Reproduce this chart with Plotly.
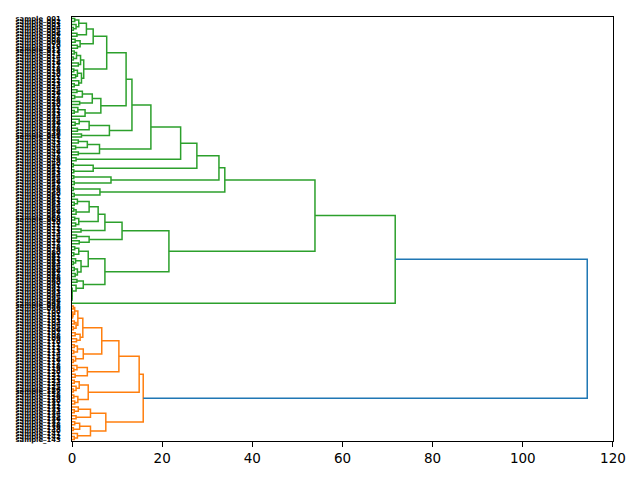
import plotly.graph_objects as go

# ---- data: hierarchical tree ----
# node = (merge height, upper child, lower child); 0 marks a single leaf
ROOT_HEIGHT = 114.3
THRESHOLD = 0.7 * ROOT_HEIGHT

# green family (upper part of chart)
g_top_a = (4.7,
           (3.2, (1.5, (0.6, 0, 0), (0.9, 0, (0.3, 0, 0))), (1.1, 0, 0)),
           (1.8, (0.7, 0, 0), (1.2, 0, 0)))
g_top_b = (2.6,
           (1.9, (1.0, (0.5, 0, 0), (0.3, 0, 0)), (1.4, 0, 0)),
           (2.1, (1.2, (0.4, 0, 0), (0.8, 0, 0)), (1.5, 0, (0.5, 0, 0))))
g_mid_a = (6.4,
           (4.5, (2.3, (1.1, 0, 0), (0.6, 0, 0)), (1.7, 0, 0)),
           (2.9, (1.3, 0, (0.5, 0, 0)), 0))
g_mid_b = (8.3,
           (3.8, (1.6, 0, (0.7, 0, 0)), (1.2, 0, 0)),
           (2.1, 0, 0))
g_mid_c = (6.1,
           (3.4, (1.4, 0, 0), (0.8, 0, 0)),
           (1.4, 0, 0))
g_small_a = (0.9, 0, 0)
g_small_b = (4.7, (0.3, 0, 0), (0.4, 0, 0))
g_small_c = (8.65, (0.4, 0, 0), (0.5, 0, 0))
g_small_d = (6.2, (0.3, 0, 0), (0.5, 0, 0))
g_low_a = (11.1,
           (7.3,
            (5.8, (3.8, (1.2, 0, (0.5, 0, 0)), (0.9, (0.4, 0, 0), 0)),
                  (1.5, (0.6, 0, 0), (0.8, 0, 0))),
            (2.0, 0, 0)),
           (3.8, (1.0, 0, 0), (1.6, 0, 0)))
g_low_b = (7.3,
           (3.6, (1.5, (0.6, 0, 0), (0.4, 0, 0)),
                 (2.0, (0.8, 0, (0.3, 0, 0)), (1.2, (0.5, 0, 0), (0.7, 0, 0)))),
           (2.5, (1.1, 0, 0),
                 (0.9, 0, (0.05, 0, (0.03, 0, (0.02, 0, (0.01, 0, 0)))))))
g_single = 0

g_upper = (33.9,
           (32.6,
            (27.7,
             (24.1,
              (17.5,
               (13.3,
                (12.0, (7.7, g_top_a, g_top_b), g_mid_a),
                g_mid_b),
               g_mid_c),
              g_small_a),
             g_small_b),
            g_small_c),
           g_small_d)
green = (71.7, (53.9, g_upper, (21.5, g_low_a, g_low_b)), g_single)

# orange family (lower part of chart)
o_a = (2.4, (1.3, (0.6, (0.3, 0, 0), (0.2, 0, (0.1, 0, 0))), (0.9, (0.5, 0, 0), (0.3, 0, 0))),
            (1.8, (0.7, 0, 0), (1.0, 0, 0)))
o_b = (2.5, (1.2, (0.5, 0, 0), (0.4, 0, 0)), (0.8, 0, (0.3, 0, 0)))
o_c = (3.4, (1.1, 0, (0.4, 0, 0)), (0.7, 0, 0))
o_d = (3.6, (1.6, (0.5, 0, 0), (0.9, 0, (0.3, 0, 0))), (1.3, (0.4, 0, 0), (0.6, 0, 0)))
o_e = (4.1, (1.4, 0, (0.5, 0, 0)), (0.9, 0, 0))
o_f = (4.1, (1.7, (0.6, 0, 0), (0.3, 0, 0)), (1.2, 0, (0.5, 0, 0)))
orange = (15.8, (14.9, (10.4, (6.6, o_a, o_b), o_c), o_d), (7.5, o_e, o_f))

root = (ROOT_HEIGHT, green, orange)

PALETTE = ["#ff7f0e", "#2ca02c", "#d62728", "#9467bd"]
ABOVE_COLOR = "#1f77b4"


def count_leaves(node):
    if node == 0:
        return 1
    return count_leaves(node[1]) + count_leaves(node[2])


n = count_leaves(root)
labels = ["sample_%03d" % (i + 1) for i in range(n)]

# cluster roots (maximal subtrees below threshold)
cluster_roots = []


def find_clusters(node):
    if node == 0:
        return
    if node[0] <= THRESHOLD:
        cluster_roots.append(node)
        return
    find_clusters(node[1])
    find_clusters(node[2])


find_clusters(root)
cluster_roots.reverse()  # bottom first, like scipy's leaf order
color_of = {id(c): PALETTE[i % len(PALETTE)] for i, c in enumerate(cluster_roots)}

segs = {}
counter = [0]


def place(node, color):
    if node == 0:
        i = counter[0]
        counter[0] += 1
        return 10 * (n - 1 - i) + 5, 0.0
    h, a, b = node
    if id(node) in color_of:
        color = color_of[id(node)]
    c = ABOVE_COLOR if h > THRESHOLD else color
    ya, ha = place(a, color)
    yb, hb = place(b, color)
    xs, ys = segs.setdefault(c, ([], []))
    xs += [ha, h, h, hb, None]
    ys += [ya, ya, yb, yb, None]
    return (ya + yb) / 2, h


place(root, ABOVE_COLOR)

fig = go.Figure()
for c, (xs, ys) in segs.items():
    fig.add_trace(go.Scatter(x=xs, y=ys, mode="lines",
                             line=dict(color=c, width=1.5), hoverinfo="skip"))

tickvals = [10 * (n - 1 - i) + 5 for i in range(n)]
x_ticks = [0, 20, 40, 60, 80, 100, 120]

fig.update_layout(
    width=640, height=480,
    margin=dict(l=72, r=27, t=17, b=39),
    plot_bgcolor="white", paper_bgcolor="white",
    showlegend=False,
    font=dict(family="DejaVu Sans", color="black"),
)
fig.update_xaxes(
    range=[0, 1.05 * ROOT_HEIGHT], tickmode="array", tickvals=x_ticks,
    ticktext=[str(v) for v in x_ticks],
    ticks="outside", ticklen=5, tickwidth=1, tickcolor="black",
    showline=True, mirror=True, linecolor="black", linewidth=1,
    showgrid=False, zeroline=False,
    tickfont=dict(size=13.5, color="black"), automargin=False,
)
fig.update_yaxes(
    range=[0, 10 * n], tickmode="array", tickvals=tickvals, ticktext=labels,
    ticks="outside", ticklen=9, tickcolor="rgba(0,0,0,0)",
    showline=True, mirror=True, linecolor="black", linewidth=1,
    showgrid=False, zeroline=False,
    tickfont=dict(size=6.8, color="#000000", weight="bold"), automargin=False,
)

fig.write_html("out.html")
